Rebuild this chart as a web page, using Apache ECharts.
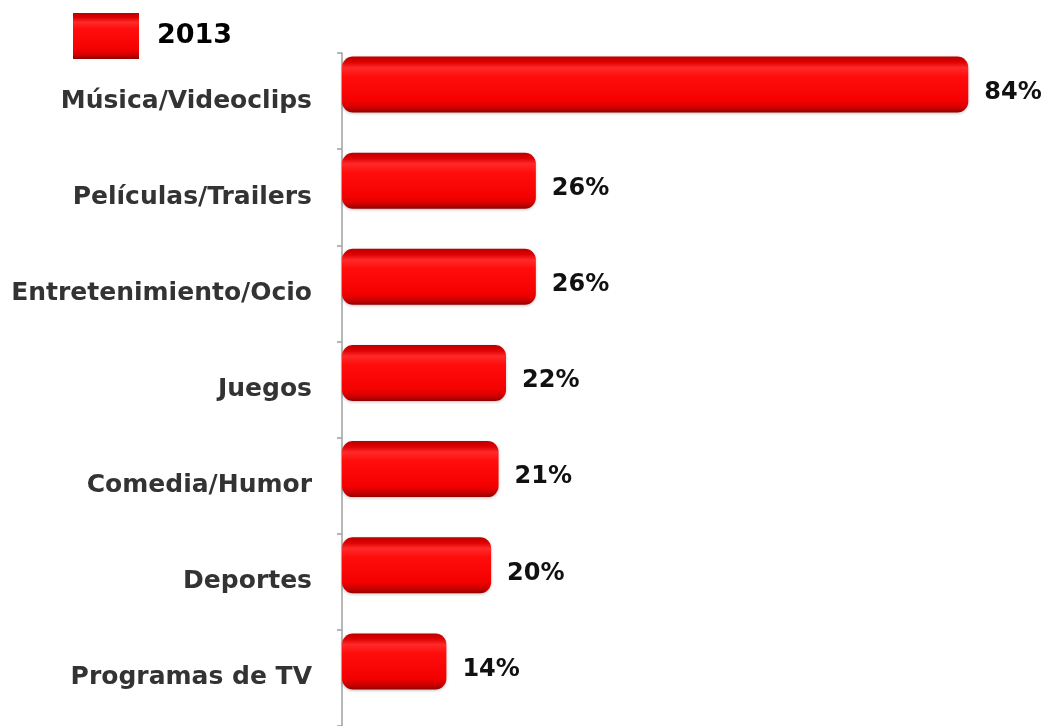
<!DOCTYPE html>
<html>
<head>
<meta charset="utf-8">
<script src="https://cdn.jsdelivr.net/npm/echarts@6/dist/echarts.min.js"></script>
<style>
  html, body { margin: 0; padding: 0; background: #fff; }
  #chart { width: 1046px; height: 726px; }
</style>
</head>
<body>
<div id="chart"></div>
<script>
// Content types watched online, share of users (%)
const categories = [
  'Música/Videoclips',
  'Películas/Trailers',
  'Entretenimiento/Ocio',
  'Juegos',
  'Comedia/Humor',
  'Deportes',
  'Programas de TV'
];
const values2013 = [84, 26, 26, 22, 21, 20, 14];
const seriesName = '2013';

const redBar = new echarts.graphic.LinearGradient(0, 0, 0, 1, [
  { offset: 0, color: '#b80000' },
  { offset: 0.1, color: '#e00000' },
  { offset: 0.2, color: '#ff2a2a' },
  { offset: 0.35, color: '#ff0d0d' },
  { offset: 0.8, color: '#f40000' },
  { offset: 0.92, color: '#cc0000' },
  { offset: 1, color: '#900000' }
]);

const chart = echarts.init(document.getElementById('chart'), null, { renderer: 'canvas' });
chart.setOption({
  animation: false,
  backgroundColor: '#ffffff',
  legend: {
    data: [seriesName],
    left: 68,
    top: 8,
    itemWidth: 66,
    itemHeight: 46,
    icon: 'rect',
    textStyle: {
      fontFamily: 'DejaVu Sans',
      fontWeight: 'bold',
      fontSize: 27,
      color: '#000',
      padding: [0, 0, 0, 13]
    }
  },
  grid: { left: 342, top: 53, width: 671, bottom: -2, containLabel: false },
  xAxis: {
    type: 'value',
    min: 0,
    max: 90,
    show: false
  },
  yAxis: {
    type: 'category',
    inverse: true,
    data: categories,
    axisLine: { show: true, lineStyle: { color: '#a0a0a0', width: 1.5 } },
    axisTick: { show: true, length: 5, lineStyle: { color: '#a0a0a0', width: 1.5 } },
    axisLabel: {
      margin: 30,
      fontFamily: 'DejaVu Sans',
      fontWeight: 'bold',
      fontSize: 25,
      color: '#333333'
    }
  },
  series: [
    {
      name: seriesName,
      type: 'bar',
      data: values2013,
      barWidth: 56,
      barGap: '-41%',
      itemStyle: {
        color: redBar,
        borderRadius: 11,
        shadowColor: 'rgba(0,0,0,0.25)',
        shadowBlur: 3,
        shadowOffsetY: 1
      },
      label: {
        show: true,
        position: 'right',
        distance: 16,
        offset: [0, 8],
        formatter: '{c}%',
        fontFamily: 'DejaVu Sans',
        fontWeight: 'bold',
        fontSize: 24,
        color: '#111'
      }
    },
    {
      name: 'spacer',
      type: 'bar',
      data: values2013,
      barWidth: 56,
      silent: true,
      itemStyle: { color: 'rgba(0,0,0,0)' },
      label: { show: false }
    }
  ]
});
</script>
</body>
</html>
